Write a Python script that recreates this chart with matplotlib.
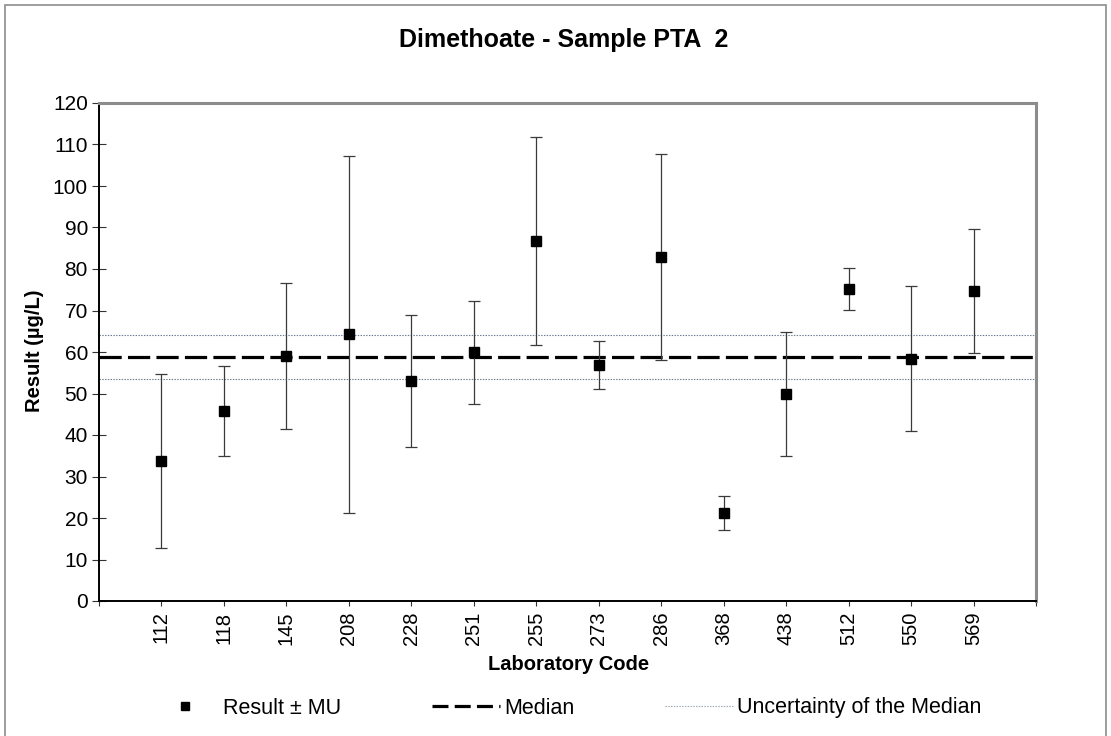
import matplotlib
matplotlib.use("Agg")
import matplotlib.pyplot as plt
from matplotlib.lines import Line2D
from matplotlib.patches import Rectangle
import numpy as np

lab_codes = ["112", "118", "145", "208", "228", "251", "255",
             "273", "286", "368", "438", "512", "550", "569"]
results = [33.8, 45.8, 59.0, 64.3, 53.0, 59.9, 86.7,
           56.9, 82.9, 21.2, 49.9, 75.2, 58.4, 74.7]
mu = [21.0, 10.9, 17.6, 43.0, 15.9, 12.5, 25.0,
      5.7, 24.8, 4.2, 15.0, 5.0, 17.5, 14.9]
median = 58.7
median_unc = 5.3

plt.rcParams["font.family"] = ["Liberation Sans", "DejaVu Sans"]
plt.rcParams["lines.scale_dashes"] = False

fig = plt.figure(figsize=(11.11, 7.36), dpi=100)
ax = fig.add_axes([99 / 1111, 1 - 601 / 736, 937 / 1111, 498 / 736])

x = np.arange(1, len(lab_codes) + 1)

ax.axhline(median + median_unc, color="#6a7890", lw=0.8, dashes=(1, 1), zorder=1)
ax.axhline(median - median_unc, color="#6a7890", lw=0.8, dashes=(1, 1), zorder=1)
ax.axhline(median, color="black", lw=2.3, dashes=(16, 4.5), zorder=2)

ax.errorbar(x, results, yerr=mu, fmt="none", ecolor="#3a3a3a",
            elinewidth=0.9, capsize=4.3, capthick=0.9, zorder=3)
ax.plot(x, results, "s", color="black", ms=7, zorder=4)

ax.set_xlim(0, len(lab_codes) + 1)
ax.set_ylim(0, 120)
ax.set_yticks(np.arange(0, 121, 10))
ax.set_xticks(np.arange(0, len(lab_codes) + 2))
ax.set_xticklabels([""] + lab_codes + [""], rotation=90)

ax.tick_params(axis="y", direction="inout", length=10, width=0.8,
               color="#333333", labelsize=15, pad=3)
ax.tick_params(axis="x", direction="out", length=3.6, width=0.8,
               color="#333333", labelsize=14.5, pad=4)

for side in ("left", "bottom"):
    ax.spines[side].set_color("black")
    ax.spines[side].set_linewidth(1.4)
for side in ("top", "right"):
    ax.spines[side].set_color("#8c8c8c")
    ax.spines[side].set_linewidth(2.2)

fig.text(564 / 1111, 1 - 40 / 736, "Dimethoate - Sample PTA  2",
         ha="center", va="center", fontsize=18, fontweight="bold")
fig.text(569 / 1111, 1 - 664 / 736, "Laboratory Code",
         ha="center", va="center", fontsize=14.5, fontweight="bold")
fig.text(34 / 1111, 1 - 351 / 736, "Result (µg/L)", rotation=90,
         ha="center", va="center", fontsize=14.5, fontweight="bold")

handles = [
    Line2D([], [], ls="none", marker="s", color="black", ms=6),
    Line2D([], [], color="black", lw=2.3, dashes=(11.5, 4.5)),
    Line2D([], [], color="#9aa4b4", lw=0.8, dashes=(1, 1)),
]
fig.legend(handles, ["Result ± MU", "Median", "Uncertainty of the Median"],
           loc="center", bbox_to_anchor=(566 / 1111, 1 - 708 / 736), ncol=3,
           frameon=False, fontsize=15.5, handlelength=3.16, handletextpad=0.2,
           columnspacing=4.2)

fig.add_artist(Rectangle((5 / 1111, -0.02), 1101 / 1111, 1.02 - 5 / 736,
                         transform=fig.transFigure, fill=False,
                         edgecolor="#8c8c8c", lw=1.2))

fig.savefig("out.png", dpi=100)
